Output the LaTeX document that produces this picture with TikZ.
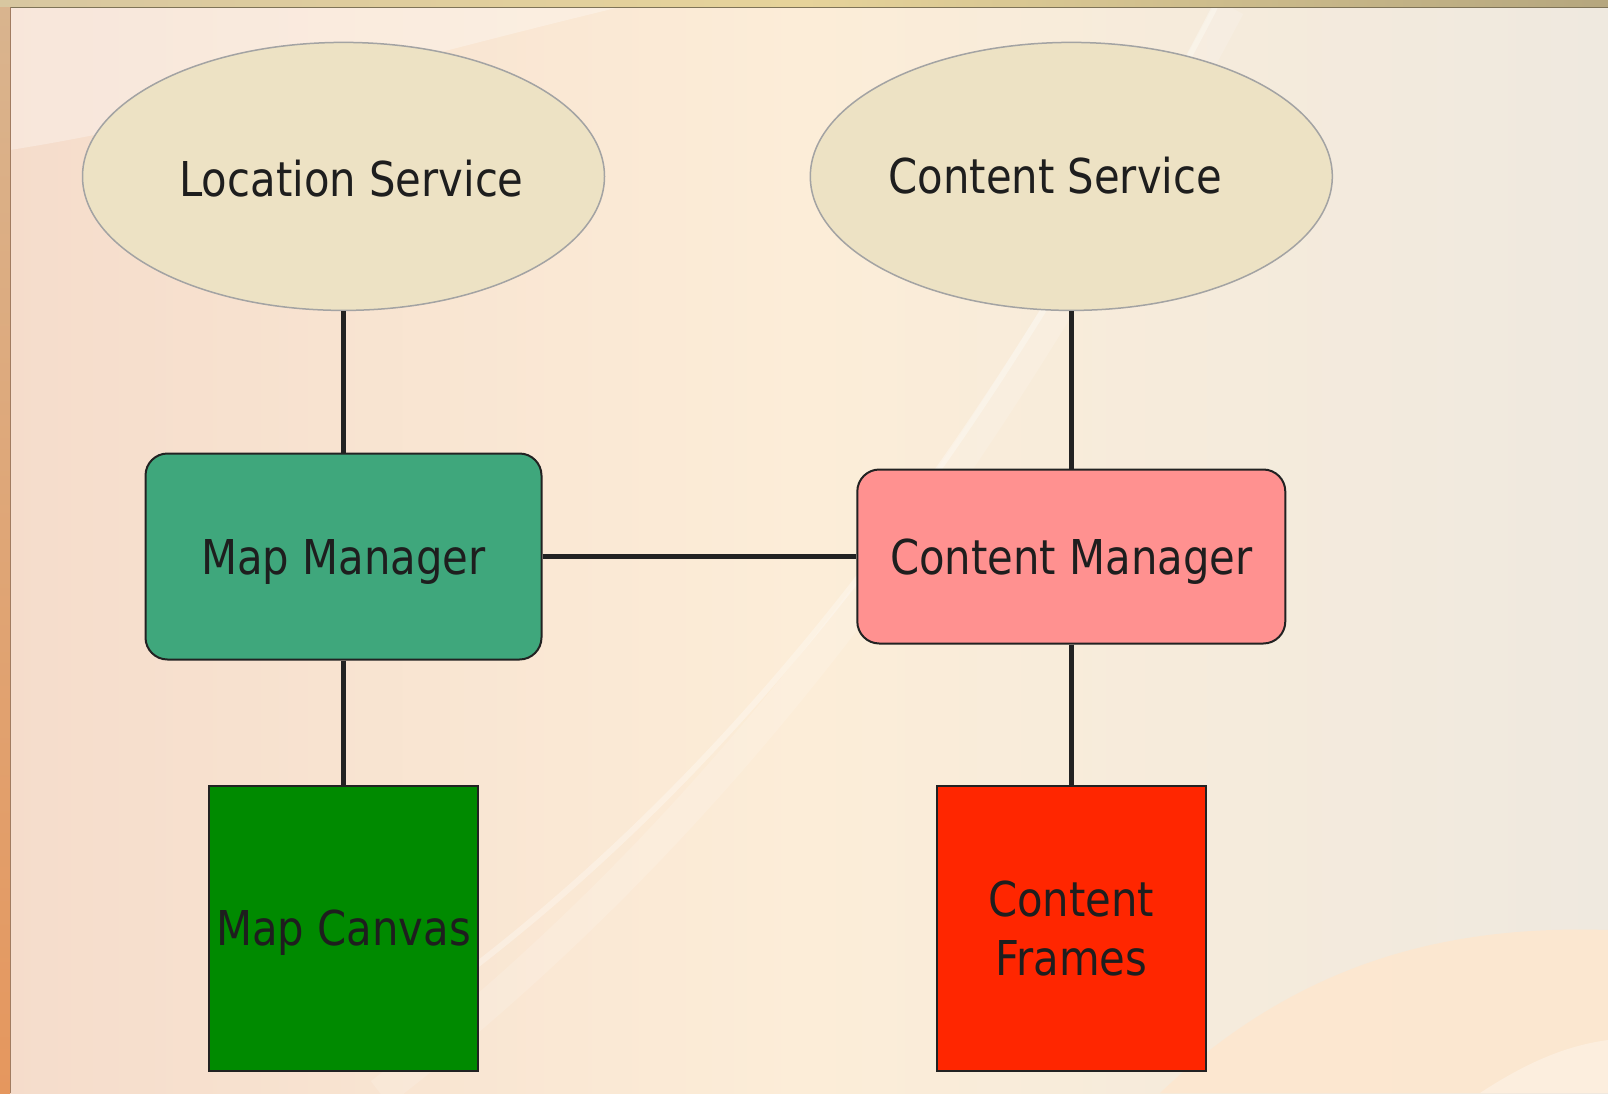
\documentclass[tikz,border=0pt]{standalone}
\usepackage{fontspec}
\setmainfont{DejaVu Sans}[FakeStretch=0.87]
\usetikzlibrary{shapes.geometric}

\definecolor{inkdark}{HTML}{1E1E1E}
\definecolor{wirecol}{HTML}{222222}
\definecolor{svcfill}{HTML}{EDE2C4}
\definecolor{svcline}{HTML}{A3A3A3}
\definecolor{mapmgr}{HTML}{3FA77C}
\definecolor{contmgr}{HTML}{FF9190}
\definecolor{mapcanvas}{HTML}{008A00}
\definecolor{contframes}{HTML}{FF2600}
\definecolor{bgpeach}{HTML}{F5DCCB}
\definecolor{bgcream}{HTML}{FCEDD8}
\definecolor{bggrey}{HTML}{EFE9DF}
\definecolor{barleft}{HTML}{D8C7A0}
\definecolor{barmid}{HTML}{E6D39A}
\definecolor{barright}{HTML}{B5A67E}
\definecolor{sidetop}{HTML}{D9B48E}
\definecolor{sidebot}{HTML}{E5975E}
\definecolor{softpeach}{HTML}{FDE7CF}

\tikzset{
  lbl/.style={font=\fontsize{48}{58.4}\selectfont, text=inkdark},
  service/.style={ellipse, lbl, fill=svcfill, draw=svcline, line width=1.5pt,
    minimum width=522pt, minimum height=268pt, inner sep=0pt,
    text height=35pt, text depth=0pt},
  manager/.style={rectangle, rounded corners=22pt, lbl, draw=wirecol,
    line width=2pt, inner sep=0pt, text height=35pt, text depth=0pt},
  viewbox/.style={rectangle, lbl, draw=wirecol, line width=2pt, inner sep=0pt,
    minimum width=269pt, minimum height=285pt},
  wire/.style={draw=wirecol, line width=5pt}
}

\begin{document}
\begin{tikzpicture}[x=1pt, y=-1pt]
  \useasboundingbox (0,0) rectangle (1608,1093);

  % backdrop
  \shade[left color=bgpeach, right color=bggrey, middle color=bgcream]
    (0,0) rectangle (1608,1093);
  \fill[white, opacity=0.3] (10,7) -- (620,7) .. controls (400,60) and (200,120) .. (10,150) -- cycle;
  \fill[softpeach, opacity=0.9] (1160,1093) .. controls (1300,960) and (1450,925) .. (1608,930)
    -- (1608,1093) -- cycle;
  \fill[white, opacity=0.3] (1480,1093) .. controls (1530,1060) and (1570,1045) .. (1608,1040)
    -- (1608,1093) -- cycle;
  \draw[white, opacity=0.3, line width=6pt]
    (430,1000) .. controls (760,760) and (1000,420) .. (1215,7);
  \draw[white, opacity=0.15, line width=30pt]
    (380,1093) .. controls (760,800) and (1010,420) .. (1230,7);

  % frame edges
  \shade[left color=barleft, right color=barright, middle color=barmid]
    (0,0) rectangle (1608,7);
  \draw[barright!70!black, line width=1pt] (0,7) -- (1608,7);
  \shade[top color=sidetop, bottom color=sidebot] (0,7) rectangle (10,1093);
  \draw[sidebot!60!black!80, line width=1pt] (10,7) -- (10,1093);

  % services
  \node[service, text height=41pt] (ls) at (343.5,176.4) {\hspace*{16pt}Location Service};
  \node[service] (cs) at (1071.3,176.4) {Content Service\hspace*{32pt}};

  % managers
  \node[manager, fill=mapmgr, minimum width=396pt, minimum height=206pt]
    (mm) at (343.5,556.5) {Map Manager};
  \node[manager, fill=contmgr, minimum width=428pt, minimum height=174pt]
    (cm) at (1071.3,556.5) {Content Manager};

  % views
  \node[viewbox, fill=mapcanvas, text height=35pt, text depth=0pt]
    (mc) at (343.5,928.2) {Map Canvas};
  \node[viewbox, fill=contframes, align=center, text depth=0pt]
    (cf) at (1071.3,928.2) {Content\\Frames};

  % links
  \draw[wire] (ls.south) -- (mm.north);
  \draw[wire] (mm.south) -- (mc.north);
  \draw[wire] (cs.south) -- (cm.north);
  \draw[wire] (cm.south) -- (cf.north);
  \draw[wire] (mm.east) -- (cm.west);
\end{tikzpicture}
\end{document}
